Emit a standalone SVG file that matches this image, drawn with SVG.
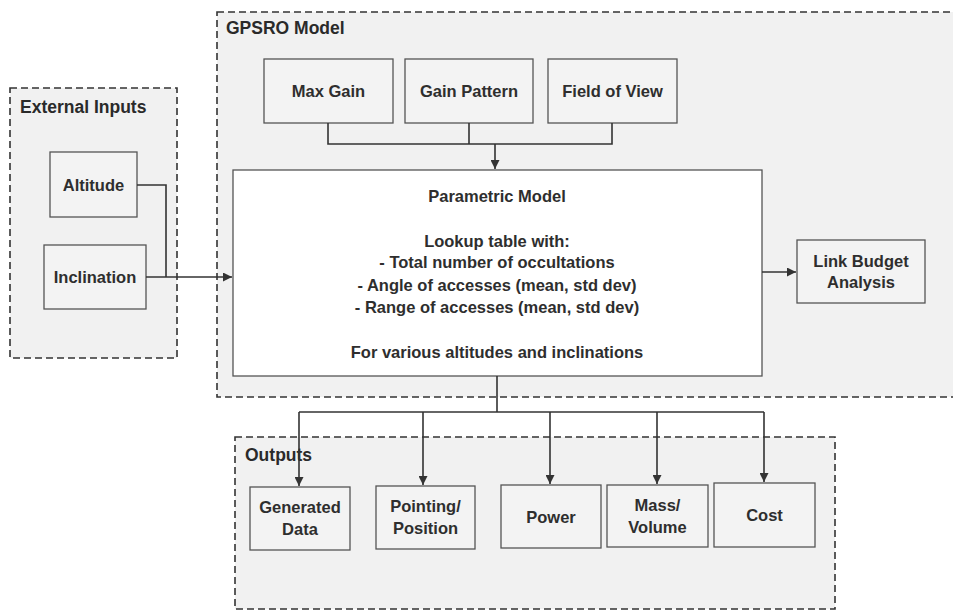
<svg xmlns="http://www.w3.org/2000/svg" width="953" height="611" viewBox="0 0 953 611">
  <defs>
    <marker id="arrow" viewBox="0 0 10 10" refX="10" refY="5" markerWidth="9" markerHeight="9" markerUnits="userSpaceOnUse" orient="auto">
      <path d="M0,0 L10,5 L0,10 z" fill="#333"/>
    </marker>
    <style>
      .group { fill: #f1f1f1; stroke: #333; stroke-width: 1.6; stroke-dasharray: 7 4; }
      .gtitle { font-family: "Liberation Sans", Arial, sans-serif; font-weight: bold; font-size: 17.5px; fill: #2a2a2a; }
      .box { fill: #f3f3f3; stroke: #555; stroke-width: 1.3; }
      .main { fill: #ffffff; stroke: #555; stroke-width: 1.3; }
      .lbl { font-family: "Liberation Sans", Arial, sans-serif; font-weight: bold; font-size: 16.5px; fill: #2e2e2e; text-anchor: middle; }
      .wire { fill: none; stroke: #333; stroke-width: 1.6; }
    </style>
  </defs>

  <rect width="953" height="611" fill="#ffffff"/>

  <!-- container regions -->
  <g id="external-inputs">
    <rect class="group" x="10" y="88" width="167" height="270"/>
    <text class="gtitle" x="20" y="113">External Inputs</text>
  </g>
  <g id="gpsro-model">
    <rect class="group" x="217" y="12" width="750" height="385"/>
    <text class="gtitle" x="226" y="34">GPSRO Model</text>
  </g>
  <g id="outputs">
    <rect class="group" x="235" y="437" width="600" height="172"/>
    <text class="gtitle" x="245" y="461">Outputs</text>
  </g>

  <!-- input nodes -->
  <g id="altitude">
    <rect class="box" x="50" y="152" width="87" height="65"/>
    <text class="lbl" x="93.5" y="191">Altitude</text>
  </g>
  <g id="inclination">
    <rect class="box" x="44" y="245" width="102" height="64"/>
    <text class="lbl" x="95" y="283">Inclination</text>
  </g>

  <!-- antenna parameters -->
  <g id="max-gain">
    <rect class="box" x="264" y="59" width="129" height="64"/>
    <text class="lbl" x="328.5" y="97">Max Gain</text>
  </g>
  <g id="gain-pattern">
    <rect class="box" x="405" y="59" width="128" height="64"/>
    <text class="lbl" x="469" y="97">Gain Pattern</text>
  </g>
  <g id="field-of-view">
    <rect class="box" x="548" y="59" width="129" height="64"/>
    <text class="lbl" x="612.5" y="97">Field of View</text>
  </g>

  <!-- central model -->
  <g id="parametric-model">
    <rect class="main" x="233" y="170" width="529" height="206"/>
    <text class="lbl" x="497" y="202">Parametric Model</text>
    <text class="lbl" x="497" y="247">Lookup table with:</text>
    <text class="lbl" x="497" y="268">- Total number of occultations</text>
    <text class="lbl" x="497" y="291">- Angle of accesses (mean, std dev)</text>
    <text class="lbl" x="497" y="313">- Range of accesses (mean, std dev)</text>
    <text class="lbl" x="497" y="358">For various altitudes and inclinations</text>
  </g>

  <g id="link-budget">
    <rect class="box" x="797" y="240" width="128" height="63"/>
    <text class="lbl" x="861" y="267">Link Budget</text>
    <text class="lbl" x="861" y="288">Analysis</text>
  </g>

  <!-- output nodes -->
  <g id="generated-data">
    <rect class="box" x="250" y="487" width="100" height="63"/>
    <text class="lbl" x="300" y="513">Generated</text>
    <text class="lbl" x="300" y="535">Data</text>
  </g>
  <g id="pointing-position">
    <rect class="box" x="376" y="486" width="99" height="63"/>
    <text class="lbl" x="425.5" y="512">Pointing/</text>
    <text class="lbl" x="425.5" y="534">Position</text>
  </g>
  <g id="power">
    <rect class="box" x="501" y="485" width="100" height="63"/>
    <text class="lbl" x="551" y="523">Power</text>
  </g>
  <g id="mass-volume">
    <rect class="box" x="607" y="485" width="101" height="62"/>
    <text class="lbl" x="657.5" y="511">Mass/</text>
    <text class="lbl" x="657.5" y="533">Volume</text>
  </g>
  <g id="cost">
    <rect class="box" x="714" y="483" width="101" height="64"/>
    <text class="lbl" x="764.5" y="521">Cost</text>
  </g>

  <!-- connectors -->
  <g id="connectors">
    <polyline class="wire" points="137,185 166,185 166,277"/>
    <line class="wire" x1="146" y1="277" x2="232" y2="277" marker-end="url(#arrow)"/>
    <polyline class="wire" points="328,123 328,144 612,144 612,123"/>
    <line class="wire" x1="469" y1="123" x2="469" y2="144"/>
    <line class="wire" x1="495" y1="144" x2="495" y2="169" marker-end="url(#arrow)"/>
    <polyline class="wire" points="762,272 796,272" marker-end="url(#arrow)"/>
    <line class="wire" x1="497" y1="376" x2="497" y2="412"/>
    <line class="wire" x1="299" y1="412" x2="764" y2="412"/>
    <line class="wire" x1="299" y1="412" x2="299" y2="486" marker-end="url(#arrow)"/>
    <line class="wire" x1="423" y1="412" x2="423" y2="485" marker-end="url(#arrow)"/>
    <line class="wire" x1="550" y1="412" x2="550" y2="484" marker-end="url(#arrow)"/>
    <line class="wire" x1="657" y1="412" x2="657" y2="484" marker-end="url(#arrow)"/>
    <line class="wire" x1="764" y1="412" x2="764" y2="482" marker-end="url(#arrow)"/>
  </g>
</svg>
